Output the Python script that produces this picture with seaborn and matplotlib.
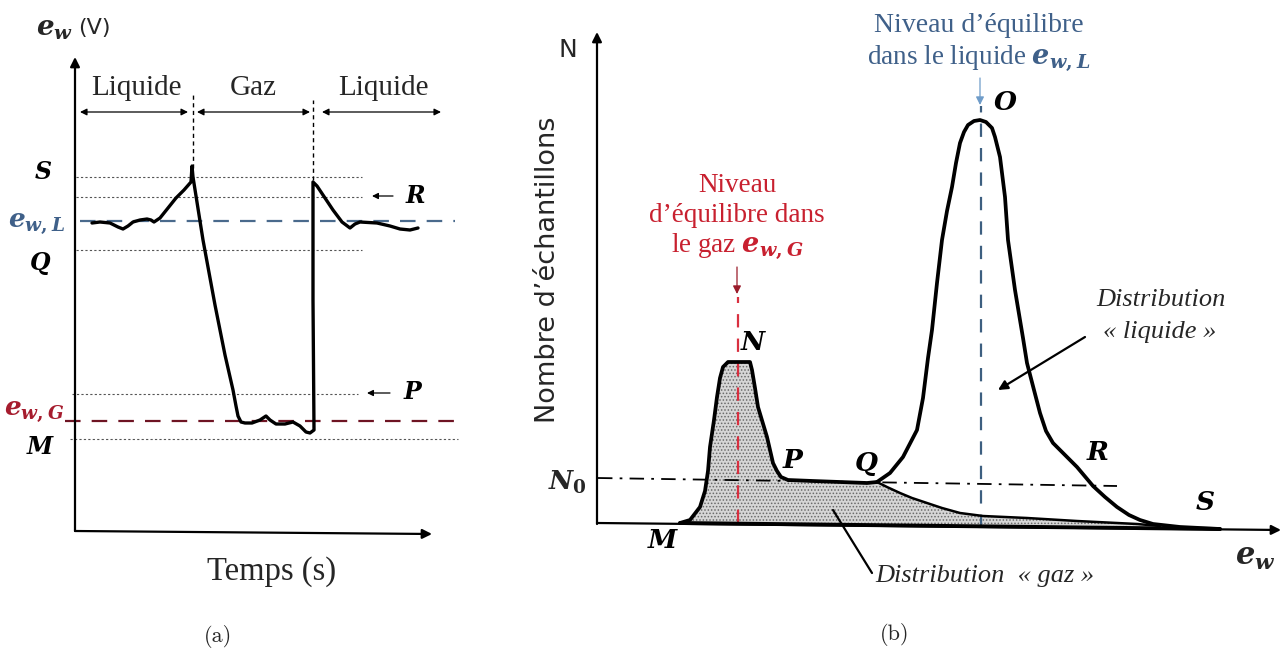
import numpy as np
import pandas as pd
import matplotlib
matplotlib.use("Agg")
import matplotlib.pyplot as plt
import seaborn as sns

# ---------------- Panel (a): signal e_w(t) (schematic units) ----------------
sig_t = [17, 25, 35, 43, 48, 53, 58, 65, 72, 76, 79, 85, 93, 101, 109, 116, 117, 118, 128, 140,
         150, 158, 161, 163, 166, 170, 177, 185, 191, 195, 201, 210, 218, 225, 231, 235, 239, 238, 238, 242,
         250, 258, 267, 275, 280, 285, 302, 315, 325, 335, 343]
sig_e = [307, 308, 307, 303, 301, 304, 308, 310, 311, 310, 308, 312, 322, 332, 340, 348, 364, 353, 290, 225,
         175, 140, 124, 114, 108, 107, 107, 110, 114, 110, 106, 106, 108, 104, 98, 97, 100, 230, 348, 344,
         332, 320, 308, 302, 306, 308, 307, 304, 301, 300, 302]
level_names = ["S", "R", "Q", "P", "M"]
level_vals = [353, 333, 280, 136, 91]
ew_L = 309
ew_G = 109
phase_names = ["Liquide", "Gaz", "Liquide"]
phase_start = [5, 122, 247]
phase_end = [113, 235, 366]
interface_t = [118, 238]

# ---------------- Panel (b): histogram of e_w (schematic units) ----------------
gas_x = [83, 93, 103, 108, 111, 113, 117, 120, 123, 126, 131, 153, 155, 158, 161, 170, 176, 180, 184, 191,
         216, 243, 270, 280]
gas_y = [0, 3, 16, 32, 52, 76, 103, 126, 145, 156, 161, 161, 153, 135, 116, 86, 60, 52, 46, 43,
         42, 41, 40, 41]
liq_x = [280, 293, 306, 320, 326, 331, 335, 340, 345, 350, 355, 359, 363, 367, 371, 377, 383, 389, 395, 398,
         403, 408, 411, 418, 426, 430, 437, 443, 449, 456, 466, 480, 496, 508, 520, 532, 543, 556, 583, 623]
liq_y = [41, 50, 66, 93, 125, 165, 193, 240, 283, 312, 336, 360, 380, 391, 398, 402, 403, 401, 395, 386,
         366, 326, 283, 233, 185, 160, 133, 110, 92, 80, 70, 56, 37, 26, 16, 8, 3, -1, -4, -6]
tail_x = [280, 290, 303, 315, 330, 345, 363, 386, 430, 480, 540, 563]
tail_y = [41, 36, 30, 25, 20, 15, 10, 7, 5, 2, -1, -3]
hist_ew_L = 384
hist_ew_G = 141
N0_x = [1, 520]
N0_y = [45, 37]

sns.set_style("white")
plt.rcParams["font.family"] = ["Liberation Serif", "DejaVu Serif"]
plt.rcParams["mathtext.fontset"] = "custom"
plt.rcParams["mathtext.it"] = "DejaVu Serif:italic:bold"
plt.rcParams["mathtext.rm"] = "DejaVu Serif:bold"
plt.rcParams["mathtext.bf"] = "DejaVu Serif:bold"
plt.rcParams["hatch.linewidth"] = 0.7
plt.rcParams["lines.solid_joinstyle"] = "round"
plt.rcParams["lines.solid_capstyle"] = "round"

W, H = 1282, 651
fig = plt.figure(figsize=(W / 100, H / 100), dpi=100)

BLUE_TXT = "#3f6089"
BLUE_LINE = "#4a6a8c"
MAROON = "#6e1423"
RED_TXT = "#a61c2e"
RED_B = "#c8202f"

def bi(ax, x, y, s, size=17, color="black", **kw):
    ax.text(x, y, s, fontsize=size, fontweight="bold", fontstyle="italic", color=color,
            ha="center", va="center", family="DejaVu Serif", **kw)

def arrow(ax, tail, tip, style="-|>", lw=1.0, color="black", ms=12, ls="-"):
    ax.annotate("", xy=tip, xytext=tail,
                arrowprops=dict(arrowstyle=style, lw=lw, color=color, mutation_scale=ms,
                                shrinkA=0, shrinkB=0, linestyle=ls))

# =================== Panel (a) ===================
axa = fig.add_axes([0, 0, 470 / W, 1])
axa.set_xlim(-75, 395)
axa.set_ylim(530 - H, 530)
axa.axis("off")

arrow(axa, (0, -1), (0, 473), lw=1.6, ms=14)
arrow(axa, (0, -1), (357, -4), lw=1.6, ms=14)

lvl_start = [1, 1, 1, -3, -5]
lvl_end = [287, 287, 287, 283, 383]
for v, a, b in zip(level_vals, lvl_start, lvl_end):
    axa.plot([a, b], [v, v], color="#555555", lw=0.8, ls=(0, (2, 2)))
axa.plot([5, 380], [ew_L, ew_L], color=BLUE_LINE, lw=1.6, ls=(0, (7, 5)))
axa.plot([-10, 380], [ew_G, ew_G], color=MAROON, lw=1.6, ls=(0, (7, 5)))

for t0, top, bot in zip(interface_t, [435, 430], [362, 350]):
    axa.plot([t0, t0], [bot, top], color="black", lw=1.0, ls=(0, (3, 2.5)))

for name, a, b in zip(phase_names, phase_start, phase_end):
    arrow(axa, (a, 418), (b, 418), style="<|-|>", lw=0.9, ms=10)
    axa.text((a + b) / 2 + (2 if name != "Gaz" else 0), 442, name, fontsize=21, ha="center", va="center")

df_sig = pd.DataFrame({"t": sig_t, "e": sig_e})
sns.lineplot(data=df_sig, x="t", y="e", sort=False, estimator=None, color="black", lw=2.4, ax=axa)
axa.set_xlabel("")
axa.set_ylabel("")

bi(axa, -32, 358, "S", 17)
bi(axa, -35, 267, "Q", 17)
bi(axa, -35, 83, "M", 17)
bi(axa, 340, 334, "R", 17)
bi(axa, 337, 138, "P", 17)
arrow(axa, (318, 334), (297, 334), lw=0.9, ms=9)
arrow(axa, (315, 137), (292, 137), lw=0.9, ms=9)
axa.text(-39, 306, r"$e_{w,L}$", fontsize=19, color=BLUE_TXT, ha="center", va="center")
axa.text(-41, 118, r"$e_{w,G}$", fontsize=19, color=RED_TXT, ha="center", va="center")
axa.text(-21, 501, r"$e_w$", fontsize=20, ha="center", va="center")
axa.text(3, 502, "(V)", fontsize=16, ha="left", va="center", family="DejaVu Sans")
axa.text(197, -42, "Temps (s)", fontsize=23.5, ha="center", va="center")
axa.text(143, -106, "(a)", fontsize=16, ha="center", va="center", family="cmr10")

# =================== Panel (b) ===================
axb = fig.add_axes([520 / W, 0, 762 / W, 1])
axb.set_xlim(-77, 685)
axb.set_ylim(523 - H, 523)
axb.axis("off")

arrow(axb, (0, -1), (0, 491), lw=1.6, ms=14)
arrow(axb, (0, 0), (684, -7), lw=1.6, ms=14)

fill_x = gas_x + tail_x[1:]
fill_y = gas_y + tail_y[1:]
axb.fill(fill_x, fill_y, facecolor="#d6d6d6", edgecolor="#6a6a6a", hatch=".....", lw=0, zorder=1)

axb.plot(N0_x, N0_y, color="black", lw=1.3, ls=(0, (8, 4, 1.5, 4)), zorder=2)

axb.plot([hist_ew_L, hist_ew_L], [-5, 417], color="#3d5f80", lw=1.6, ls=(0, (6, 5)), zorder=2)
arrow(axb, (hist_ew_L - 1, 445), (hist_ew_L - 1, 418), lw=0.9, color="#6f9cc9", ms=12)
axb.plot([hist_ew_G, hist_ew_G], [0, 226], color="#d93040", lw=1.6, ls=(0, (6, 5)), zorder=2)
arrow(axb, (hist_ew_G - 1, 256), (hist_ew_G - 1, 229), lw=0.9, color="#9a1b2a", ms=12)

sns.lineplot(x=gas_x, y=gas_y, sort=False, estimator=None, color="black", lw=2.7, ax=axb)
sns.lineplot(x=liq_x, y=liq_y, sort=False, estimator=None, color="black", lw=2.7, ax=axb)
sns.lineplot(x=tail_x, y=tail_y, sort=False, estimator=None, color="black", lw=1.8, ax=axb)
axb.plot([gas_x[0], liq_x[-1]], [0, -6], color="black", lw=2.8)
axb.set_xlabel("")
axb.set_ylabel("")

axb.text(-29, 473, "N", fontsize=18, ha="center", va="center", family="DejaVu Sans")
axb.text(-49, 253, "Nombre d’échantillons", fontsize=19.5, rotation=90, ha="center", va="center",
         family="DejaVu Sans")
axb.text(382, 498, "Niveau d’équilibre", fontsize=20, color=BLUE_TXT, ha="center", va="center")
axb.text(382, 465, r"dans le liquide $e_{w,L}$", fontsize=19.5, color=BLUE_TXT, ha="center", va="center")
axb.text(140, 338, "Niveau", fontsize=19.5, color=RED_B, ha="center", va="center")
axb.text(140, 308, "d’équilibre dans", fontsize=19.5, color=RED_B, ha="center", va="center")
axb.text(140, 277, r"le gaz $e_{w,G}$", fontsize=19.5, color=RED_B, ha="center", va="center")
bi(axb, 408, 420, "O", 19)
bi(axb, 156, 180, "N", 19)
bi(axb, 196, 62, "P", 19)
bi(axb, 269, 59, "Q", 19)
bi(axb, 501, 70, "R", 19)
bi(axb, 608, 20, "S", 19)
bi(axb, 65, -17, "M", 19)
axb.text(-30, 41, r"$N_0$", fontsize=19, ha="center", va="center")
axb.text(658, -34, r"$e_w$", fontsize=22, ha="center", va="center")
axb.text(564, 223, "Distribution", fontsize=19, fontstyle="italic", ha="center", va="center")
axb.text(563, 191, "« liquide »", fontsize=19, fontstyle="italic", ha="center", va="center")
arrow(axb, (488, 186), (401, 133), lw=1.6, ms=14)
axb.text(388, -53, "Distribution  « gaz »", fontsize=19, fontstyle="italic", ha="center", va="center")
axb.plot([275, 236], [-50, 13], color="black", lw=1.6)
axb.text(298, -112, "(b)", fontsize=16, ha="center", va="center", family="cmr10")

fig.savefig("out.png", dpi=100, facecolor="white")
